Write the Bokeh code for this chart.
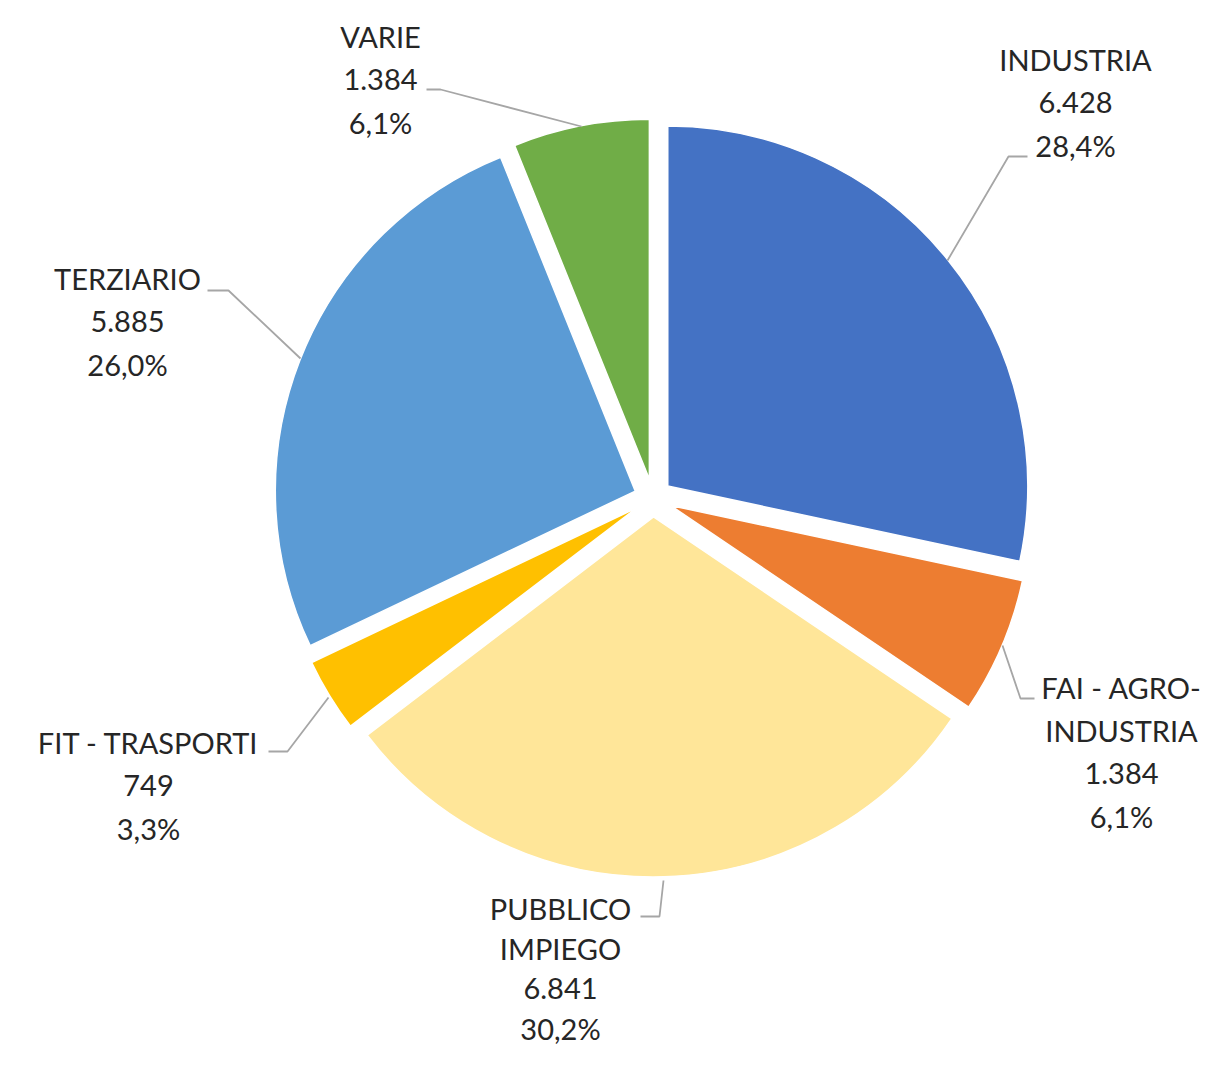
import math
from bokeh.plotting import figure
from bokeh.models import Range1d, ColumnDataSource
from bokeh.core.properties import value
from bokeh.embed import file_html
from bokeh.resources import INLINE

# ---- data ----
categories = ["INDUSTRIA", "FAI - AGRO-\nINDUSTRIA", "PUBBLICO\nIMPIEGO", "FIT - TRASPORTI", "TERZIARIO", "VARIE"]
values = [6428, 1384, 6841, 749, 5885, 1384]
colors = ["#4472C4", "#ED7D31", "#FFE699", "#FFC000", "#5B9BD5", "#70AD47"]

# ---- layout (picture pixel coords, converted below) ----
W, H = 1210, 1052
def X(px): return px
def Y(py): return H - py

CX, CY = X(652.5), Y(497.5)
R = 360
EXPLODE = 19

label_pos = [(1075, 59), (1121, 687), (560, 908), (148, 742), (127, 278), (380, 36)]
line_h = [43, 43, 40, 43, 43, 43]
leaders = [
    [(1027, 156), (1008, 156), (947, 260)],
    [(1034, 698), (1020, 698), (1002, 645)],
    [(640, 916), (659, 916), (663, 880)],
    [(268, 751), (287, 751), (328, 697)],
    [(207, 290), (228, 290), (300, 358)],
    [(426, 89), (440, 89), (581, 126)],
]

def it_num(v):
    return f"{v:,}".replace(",", ".")

def it_pct(v, total):
    return f"{v / total * 100:.1f}%".replace(".", ",")

total = sum(values)
starts, ends, xs, ys = [], [], [], []
cum = 0.0
for v in values:
    t1 = cum / total * 2 * math.pi
    cum += v
    t2 = cum / total * 2 * math.pi
    mid = (t1 + t2) / 2
    starts.append(math.pi / 2 - t2)
    ends.append(math.pi / 2 - t1)
    xs.append(CX + EXPLODE * math.sin(mid))
    ys.append(CY + EXPLODE * math.cos(mid))

src = ColumnDataSource(dict(x=xs, y=ys, start=starts, end=ends, color=colors))

p = figure(width=W, height=H, x_range=Range1d(0, W), y_range=Range1d(0, H),
           output_backend="svg", toolbar_location=None,
           x_axis_location=None, y_axis_location=None, min_border=0)
p.outline_line_color = None
p.grid.visible = False
p.background_fill_color = "white"
p.border_fill_color = "white"

p.wedge(x="x", y="y", radius=R, start_angle="start", end_angle="end",
        direction="anticlock", fill_color="color", line_color="white",
        line_width=1.5, source=src)

p.multi_line(xs=[[X(a) for a, b in l] for l in leaders],
             ys=[[Y(b) for a, b in l] for l in leaders],
             line_color="#A6A6A6", line_width=1.8)

tx, ty, tt = [], [], []
for cat, v, (lx, ly), lh in zip(categories, values, label_pos, line_h):
    lines = cat.split("\n") + [it_num(v), it_pct(v, total)]
    for i, s in enumerate(lines):
        tx.append(X(lx))
        ty.append(Y(ly + i * lh))
        tt.append(s)

p.text(x=tx, y=ty, text=tt, text_align="center", text_baseline="middle",
       text_font=value("Lato"), text_font_size="29px", text_color="#262626")

open("out.html", "w").write(file_html(p, INLINE))
